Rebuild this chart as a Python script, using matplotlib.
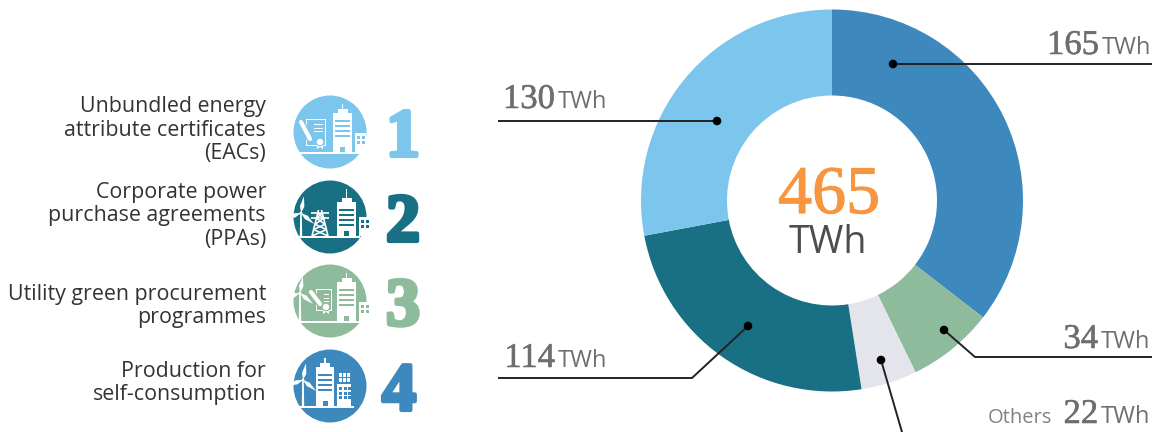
import numpy as np
from matplotlib import pyplot as plt
from matplotlib import patheffects as pe
from matplotlib.patches import Circle, Rectangle, Polygon

## DATA:
values = [165, 34, 22, 114, 130]
slice_colors = ["#3d88bd", "#8fbb9d", "#e4e5ec", "#196f84", "#7cc5ec"]
total = "465"
unit = "TWh"
row_labels = ["Unbundled energy\nattribute certificates\n(EACs)",
              "Corporate power\npurchase agreements\n(PPAs)",
              "Utility green procurement\nprogrammes",
              "Production for\nself-consumption"]
row_numbers = ["1", "2", "3", "4"]
row_colors = ["#7cc5ec", "#196f84", "#8fbb9d", "#3d88bd"]
## END DATA

W, H = 1153, 432
GREY = "#6d6e71"
FONT = "Open Sans"
NUMFONT = "Liberation Serif"

fig = plt.figure(figsize=(W / 100, H / 100), dpi=100)
ax = fig.add_axes([0, 0, 1, 1])

ax.pie(values, colors=slice_colors, startangle=90, counterclock=False,
       center=(832, H - 200.5), radius=191, wedgeprops=dict(width=86, linewidth=0))
ax.set_xlim(0, W)
ax.set_ylim(0, H)
ax.set_aspect("auto")
ax.axis("off")


def Y(y):
    # picture rows run downwards, the axes upwards
    return H - y


def heavy(width, color):
    return [pe.withStroke(linewidth=width, foreground=color)]


def rect(x0, y0, x1, y1, color="white", z=3):
    ax.add_patch(Rectangle((x0, Y(y1)), x1 - x0, y1 - y0, fc=color, ec="none", zorder=z))


def building(x0, x1, top, base, ant, bg, stripes=4):
    xm = (x0 + x1) / 2
    rect(xm - 0.8, ant, xm + 0.8, top - 3)
    rect(xm - 5, top - 4, xm + 5, top + 1)
    rect(x0, top, x1, base)
    for i in range(stripes):
        yy = top + 7 + i * 5
        rect(x0 + 2, yy, x1 - 2, yy + 1.6, bg, 4)
    rect(xm - 2.5, base - 5, xm + 2.5, base, bg, 4)


def small_block(x0, x1, top, base, bg, cols=2, rows=2):
    rect(x0, top, x1, base)
    for c in range(cols):
        for r in range(rows):
            xx = x0 + 2 + c * 4.5
            yy = top + 3 + r * 4.5
            rect(xx, yy, xx + 3, yy + 3, bg, 4)


def turbine(hx, hy, base, size=17):
    ax.add_patch(Polygon([(hx - 0.8, Y(hy)), (hx + 0.8, Y(hy)), (hx + 1.2, Y(base)), (hx - 1.2, Y(base))],
                         fc="white", ec="none", zorder=3))
    for ang in [80, 200, 320]:
        a = np.radians(ang)
        tip = (hx + size * np.cos(a), Y(hy) + size * np.sin(a))
        n = (-np.sin(a) * 2.2, np.cos(a) * 2.2)
        mid = (hx + 0.4 * size * np.cos(a), Y(hy) + 0.4 * size * np.sin(a))
        ax.add_patch(Polygon([(hx, Y(hy)), (mid[0] + n[0], mid[1] + n[1]), tip,
                              (mid[0] - n[0], mid[1] - n[1])], fc="white", ec="none", zorder=3))
    ax.add_patch(Circle((hx, Y(hy)), 1.4, fc="white", ec="none", zorder=3))


def pylon(cx, top, base):
    kw = dict(color="white", lw=1.2, zorder=3, solid_capstyle="butt")
    ax.plot([cx - 1.5, cx - 8], [Y(top), Y(base)], **kw)
    ax.plot([cx + 1.5, cx + 8], [Y(top), Y(base)], **kw)
    for f in [0.12, 0.32]:
        yy = top + f * (base - top)
        ax.plot([cx - 9, cx + 9], [Y(yy), Y(yy)], **kw)
    fs = [0.12, 0.32, 0.55, 0.75, 1.0]
    for a, b in zip(fs[:-1], fs[1:]):
        wa, wb = 1.5 + a * 6.5, 1.5 + b * 6.5
        ya, yb = top + a * (base - top), top + b * (base - top)
        ax.plot([cx - wa, cx + wb], [Y(ya), Y(yb)], **kw)
        ax.plot([cx + wa, cx - wb], [Y(ya), Y(yb)], **kw)


def certificate(x0, y0, x1, y1, bg):
    rect(x0, y0, x1, y1)
    rect(x0 + 1.3, y0 + 1.3, x1 - 1.3, y1 - 1.3, bg, 3.5)
    for i in range(3):
        yy = y0 + 5 + i * 3.5
        rect(x0 + 8, yy, x1 - 3, yy + 1.2, "white", 4)
    ax.add_patch(Circle((x1 - 6, Y(y1 - 4)), 3.8, fc="white", ec=bg, lw=0.8, zorder=5))
    ax.add_patch(Polygon([(x1 - 9, Y(y1 - 1)), (x1 - 3, Y(y1 - 1)), (x1 - 3, Y(y1 + 3)), (x1 - 6, Y(y1 + 1)), (x1 - 9, Y(y1 + 3))],
                         fc="white", ec="none", zorder=4))
    ax.plot([x0 - 5, x0 + 4], [Y(y0 + 3), Y(y1 - 7)], color=bg, lw=5, zorder=4.5, solid_capstyle="round")
    ax.plot([x0 - 5, x0 + 4], [Y(y0 + 3), Y(y1 - 7)], color="white", lw=3, zorder=5, solid_capstyle="round")


# left column: label, round icon, big number
icon_y = [132, 217, 301, 386]
label_y = [130, 216, 306, 383]
number_x = [403, 403, 403, 399]
for lab, num, col, cy, ly, nx in zip(row_labels, row_numbers, row_colors, icon_y, label_y, number_x):
    ax.add_patch(Circle((330, Y(cy)), 36.5, fc=col, ec="none", zorder=2))
    ax.text(266, Y(ly), lab, ha="right", va="center", fontsize=15.4, family=FONT, color="#333333", linespacing=1.16)
    ax.text(nx, Y(cy + 24), num, ha="center", va="baseline", fontsize=49, family=NUMFONT, weight="bold",
            color=col, path_effects=heavy(3, col))

# icon 1
c = row_colors[0]
rect(299, 152, 364, 153.5)
building(333, 352, 113, 152, 104, c)
small_block(355, 366, 133, 152, c)
certificate(306, 119, 326, 146, c)
# icon 2
c = row_colors[1]
rect(299, 236, 360, 237.5)
building(337, 356, 202, 236, 189, c)
small_block(359, 367, 217, 236, c)
pylon(320, 210, 236)
turbine(301, 213, 236)
# icon 3
c = row_colors[2]
rect(299, 321, 360, 322.5)
building(337, 356, 282, 321, 273, c)
small_block(359, 367, 302, 321, c)
certificate(316, 289, 332, 311, c)
turbine(300, 293, 321)
# icon 4
c = row_colors[3]
rect(297, 406, 354, 407.5)
building(316, 334, 367, 406, 358, c)
small_block(337, 351, 384, 406, c, cols=3, rows=3)
for i in range(3):
    xx = 338.5 + i * 4.2
    rect(xx, 373, xx + 3.4, 377, "white")
    rect(xx, 378, xx + 3.4, 382, "white")
turbine(303, 380, 406)

# leader lines, dot inside the slice
dots = [(893, 64), (944, 330), (881, 360), (748, 326), (717, 121)]
paths = [[(893, 64), (1151, 64)],
         [(944, 330), (975, 357), (1151, 357)],
         [(881, 360), (902, 432)],
         [(748, 326), (692, 378), (499, 378)],
         [(717, 121), (499, 121)]]
for d, p in zip(dots, paths):
    ax.plot([q[0] for q in p], [Y(q[1]) for q in p], color="#222222", lw=1.4, zorder=6)
    ax.add_patch(Circle((d[0], Y(d[1])), 4.3, fc="black", ec="none", zorder=7))

# value labels
num_x = [1099, 1098, 1098, 555, 555]
num_base = [54, 348, 423, 367, 108]
for v, nx, ny in zip(values, num_x, num_base):
    ax.text(nx, Y(ny), str(v), ha="right", va="baseline", fontsize=25, family=NUMFONT, color=GREY,
            path_effects=heavy(0.4, GREY))
    ax.text(nx + 3, Y(ny), unit, ha="left", va="baseline", fontsize=17, family=FONT, color=GREY)
ax.text(1052, Y(423), "Others", ha="right", va="baseline", fontsize=14.5, family=FONT, color="#808285")

# centre of the ring
ax.text(829, Y(213), total, ha="center", va="baseline", fontsize=49, family=NUMFONT, color="#f7963f",
        path_effects=heavy(0.8, "#f7963f"))
ax.text(828, Y(253), unit, ha="center", va="baseline", fontsize=27, family=FONT, color="#4d4d4f")

fig.savefig("out.png", dpi=100)
